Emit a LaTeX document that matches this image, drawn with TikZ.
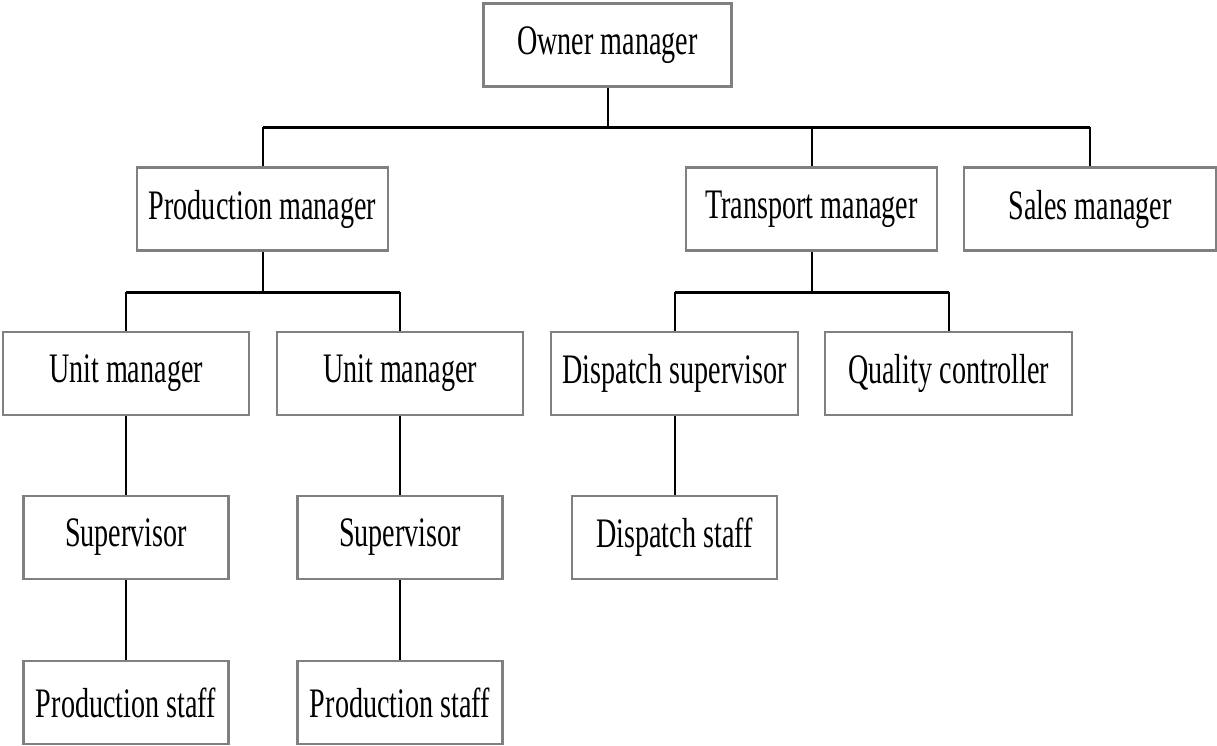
\documentclass[tikz,border=0pt]{standalone}
\usepackage{fontspec}
\setmainfont[FakeStretch=0.67]{Liberation Serif}
\usepackage{xcolor}
\usepackage{tikz}
\definecolor{boxgray}{RGB}{128,128,128}
\tikzstyle{post}=[draw=boxgray, line width=2.6pt, fill=white, inner sep=0pt, minimum height=83pt, minimum width=248pt, font=\fontsize{42}{44}\selectfont]
\tikzstyle{smallpost}=[post, minimum width=205pt]
\tikzstyle{link}=[line width=2pt]
\tikzstyle{bus}=[line width=3pt]

\begin{document}
\begin{tikzpicture}[x=1pt, y=-1pt]
        \useasboundingbox (0,0) rectangle (1217,745);

        % Row heights
        \def\rowA{45}
        \def\rowB{209}
        \def\rowC{373.5}
        \def\rowD{537.5}
        \def\rowE{702.5}

        % Boxes
        \node[post] (owner) at (607.5,\rowA) {Owner manager};
        \node[post, minimum width=251pt] (prodman) at (262.5,\rowB) {Production manager};
        \node[post, minimum width=251pt] (transman) at (811.5,\rowB) {Transport manager};
        \node[post, minimum width=252pt] (salesman) at (1090,\rowB) {Sales manager};
        \node[post, minimum width=246pt] (unitA) at (126,\rowC) {Unit manager};
        \node[post, minimum width=246pt] (unitB) at (400,\rowC) {Unit manager};
        \node[post, minimum width=247pt] (dispsup) at (674.5,\rowC) {Dispatch supervisor};
        \node[post, minimum width=247pt] (quality) at (948.5,\rowC) {Quality controller};
        \node[smallpost] (supA) at (126,\rowD) {Supervisor};
        \node[smallpost] (supB) at (400,\rowD) {Supervisor};
        \node[smallpost] (dispstaff) at (674.5,\rowD) {Dispatch staff};
        \node[smallpost] (staffA) at (126,\rowE) {Production staff};
        \node[smallpost] (staffB) at (400,\rowE) {Production staff};

        % Bus coordinates
        \coordinate (topbus) at (607.5,127);
        \coordinate (prodbus) at (262.5,292);
        \coordinate (transbus) at (811.5,292);

        % Owner to managers
        \draw[link] (owner.south) -- (topbus);
        \draw[bus] (prodman.north |- topbus) -- (salesman.north |- topbus);
        \draw[link] (prodman.north) -- (prodman.north |- topbus);
        \draw[link] (transman.north) -- (transman.north |- topbus);
        \draw[link] (salesman.north) -- (salesman.north |- topbus);

        % Production branch
        \draw[link] (prodman.south) -- (prodbus);
        \draw[bus] (unitA.north |- prodbus) -- (unitB.north |- prodbus);
        \draw[link] (unitA.north) -- (unitA.north |- prodbus);
        \draw[link] (unitB.north) -- (unitB.north |- prodbus);
        \draw[link] (unitA) -- (supA);
        \draw[link] (unitB) -- (supB);
        \draw[link] (supA) -- (staffA);
        \draw[link] (supB) -- (staffB);

        % Transport branch
        \draw[link] (transman.south) -- (transbus);
        \draw[bus] (dispsup.north |- transbus) -- (quality.north |- transbus);
        \draw[link] (dispsup.north) -- (dispsup.north |- transbus);
        \draw[link] (quality.north) -- (quality.north |- transbus);
        \draw[link] (dispsup) -- (dispstaff);

    \end{tikzpicture}
\end{document}
